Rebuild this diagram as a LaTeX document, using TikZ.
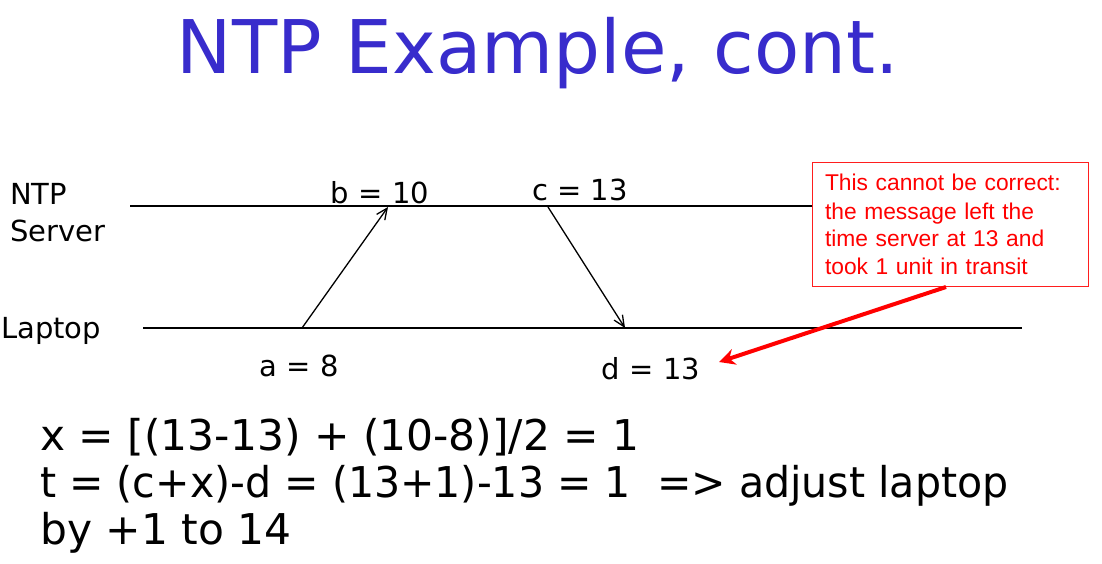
\documentclass[tikz,border=0pt]{standalone}
\usepackage{fontspec}
\setmainfont{DejaVu Sans}
\newfontfamily\arialf{Liberation Sans}
\usetikzlibrary{arrows.meta}
\definecolor{titleblue}{RGB}{56,44,204}
\definecolor{boxred}{RGB}{255,30,30}
\begin{document}
\begin{tikzpicture}[x=1pt,y=-1pt,
  lbl/.style={inner sep=0pt,font=\fontsize{29}{34}\selectfont},
  eq/.style={inner sep=0pt,anchor=base west,font=\fontsize{42.4}{47}\selectfont},
  timeline/.style={line width=1.5pt,black},
  msg/.style={line width=1.3pt,-{Straight Barb[length=11pt,width=10pt,line width=1.3pt]}},
  note/.style={draw=boxred,line width=1pt,text=red,align=left,inner sep=0pt,
    minimum width=276pt,minimum height=124pt,text width=250pt,
    font=\arialf\fontsize{22.8}{27.3}\selectfont}]
\useasboundingbox (0,0) rectangle (1102,563);
% title
\node[inner sep=0pt,anchor=base,text=titleblue,font=\fontsize{74}{80}\selectfont] (title) at (538,73) {NTP Example, cont.};
% left labels
\node[lbl,anchor=west] (ntp) at (10,194) {NTP};
\node[lbl,anchor=west] (srv) at (10,231) {Server};
\node[lbl,anchor=west] (lap) at (1,331) {Laptop};
% red note box
\node[note] (box) at (950,224) {\vspace*{2pt}This cannot be correct:\\the message left the\\time server at 13 and\\took 1 unit in transit};
% timelines
\coordinate (s0) at (130,206);
\coordinate (s1) at (box.west |- 0,206);
\coordinate (l0) at (143,328);
\coordinate (l1) at (1022,328);
\draw[timeline] (s0) -- (s1);
\draw[timeline] (l0) -- (l1);
% events
\coordinate (a) at (302,328);
\coordinate (b) at (388,207);
\coordinate (c) at (548,207);
\coordinate (d) at (625,328);
\draw[msg] (a) -- (b);
\draw[msg] (c) -- (d);
\node[lbl] (bl) at (380,193) {b = 10};
\node[lbl] (cl) at (580,190) {c = 13};
\node[lbl] (al) at (299,366) {a = 8};
\node[lbl] (dl) at (651,369) {d = 13};
% red arrow
\coordinate (rs) at (946,287);
\coordinate (rt) at (719,362);
\draw[red,line width=4pt,-{Stealth[length=16pt,width=16pt]}] (rs) -- (rt);
% equations
\node[eq] (e1) at (40,450) {x = [(13-13) + (10-8)]/2 = 1};
\node[eq] (e2) at (40,497) {\scalebox{0.97}[1]{t = (c+x)-d = (13+1)-13 = 1\ \ => adjust laptop}};
\node[eq] (e3) at (40,544) {by +1 to 14};
\end{tikzpicture}
\end{document}
